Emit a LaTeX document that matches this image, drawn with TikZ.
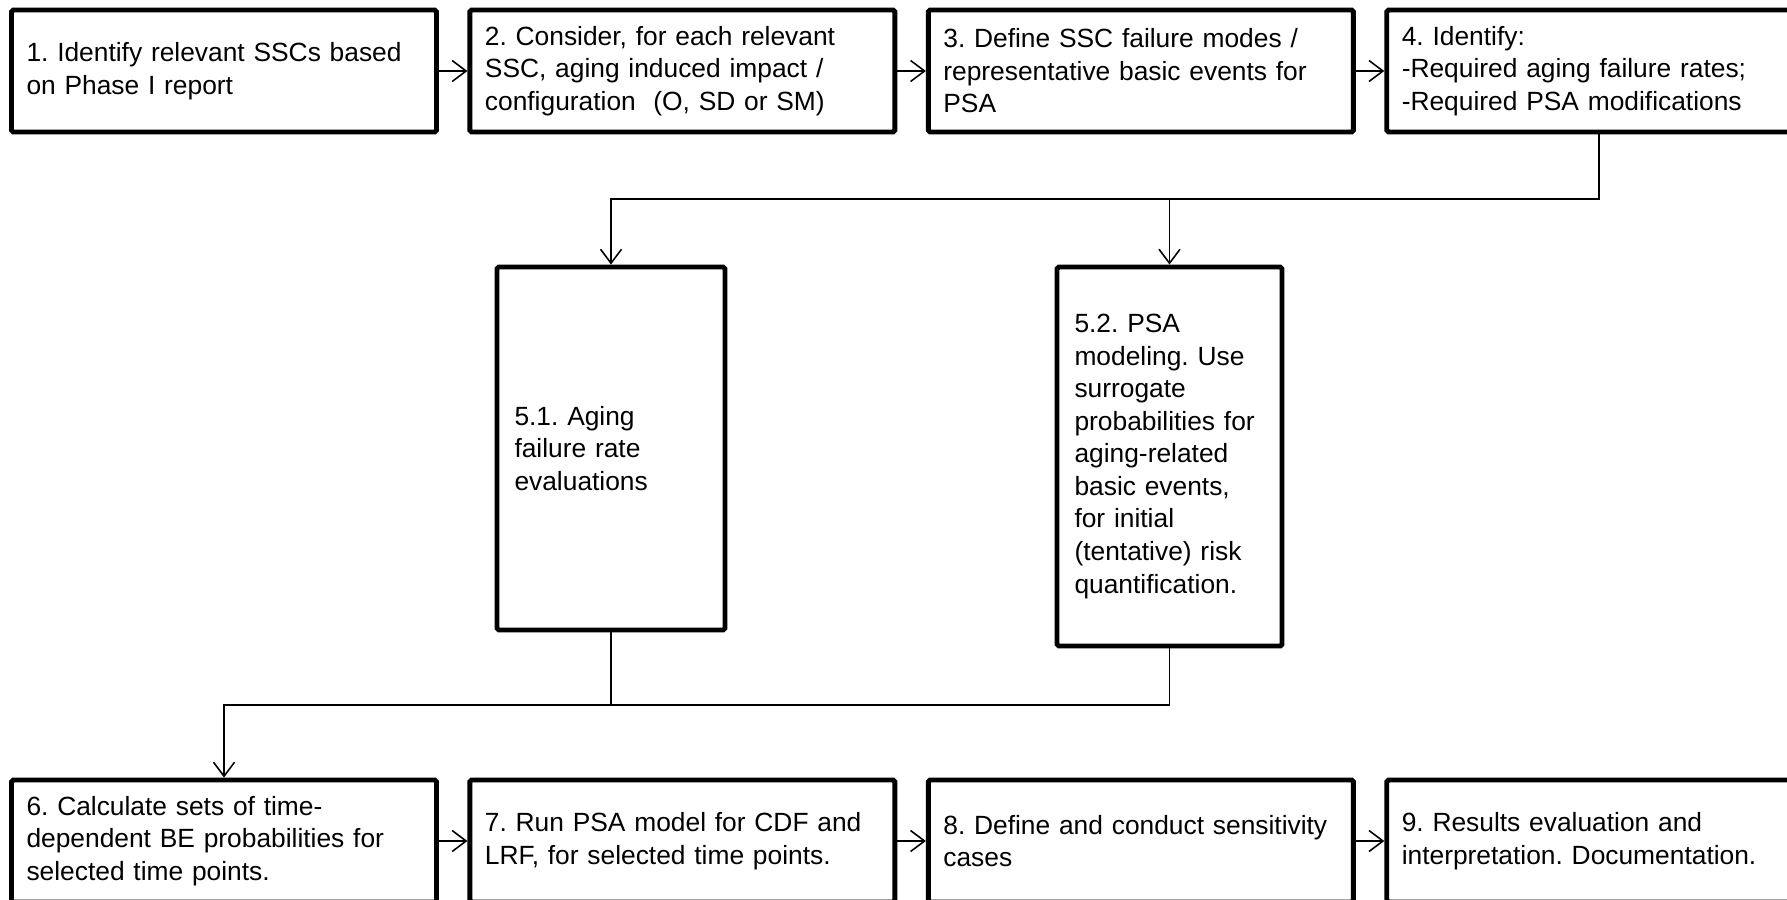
\documentclass[tikz,border=0pt]{standalone}
\usepackage{fontspec}
\setmainfont{Liberation Sans}
\usetikzlibrary{arrows.meta,calc,positioning}

\begin{document}
\begin{tikzpicture}[
  box/.style={draw, line width=2.8pt, rounded corners=1pt, align=left, inner ysep=0pt, font=\fontsize{15}{18.5}\selectfont\frenchspacing},
  rowbox/.style={box, inner xsep=0.3cm, text width=7.9cm, minimum height=2.44cm},
  link/.style={line width=0.9pt, -{Straight Barb[length=0.28cm,width=0.42cm]}},
  line/.style={line width=0.9pt}]
\useasboundingbox (0,0) rectangle (35.74,-17.98);
\clip (0,0) rectangle (35.74,-17.98);
\node[rowbox] (S1) at (4.48,-1.42) {1. Identify relevant SSCs based\\on Phase I report};
\node[rowbox, right=0.57cm of S1] (S2) {2. Consider, for each relevant\\SSC, aging induced impact /\\configuration\ \ (O, SD or SM)};
\node[rowbox, right=0.57cm of S2] (S3) {3. Define SSC failure modes /\\representative basic events for\\PSA};
\node[rowbox, right=0.57cm of S3] (S4) {4. Identify:\\-Required aging failure rates;\\-Required PSA modifications};
\node[box, inner xsep=0.35cm, text width=3.86cm, minimum height=7.26cm] (S51) at (12.22,-8.97) {5.1. Aging\\failure rate\\evaluations};
\node[box, inner xsep=0.35cm, text width=3.8cm, minimum height=7.58cm] (S52) at (23.39,-9.13) {5.2. PSA\\modeling. Use\\surrogate\\probabilities for\\aging-related\\basic events,\\for initial\\(tentative) risk\\quantification.};
\node[rowbox] (S6) at (4.48,-16.82) {6. Calculate sets of time-\\dependent BE probabilities for\\selected time points.};
\node[rowbox, right=0.57cm of S6] (S7) {7. Run PSA model for CDF and\\LRF, for selected time points.};
\node[rowbox, right=0.57cm of S7] (S8) {8. Define and conduct sensitivity\\cases};
\node[rowbox, right=0.57cm of S8] (S9) {9. Results evaluation and\\interpretation. Documentation.};
\coordinate (T) at (0,-3.98);
\coordinate (U) at (0,-14.10);
\draw[link] (S1) -- (S2);
\draw[link] (S2) -- (S3);
\draw[link] (S3) -- (S4);
\draw[link] (S4.south) |- (S51.north |- T) -- (S51.north);
\draw[link] (S52.north |- T) -- (S52.north);
\draw[line] (S51.south) -- (S51.south |- U);
\draw[link] (S52.south) |- (S6.north |- U) -- (S6.north);
\draw[link] (S6) -- (S7);
\draw[link] (S7) -- (S8);
\draw[link] (S8) -- (S9);
\end{tikzpicture}
\end{document}
